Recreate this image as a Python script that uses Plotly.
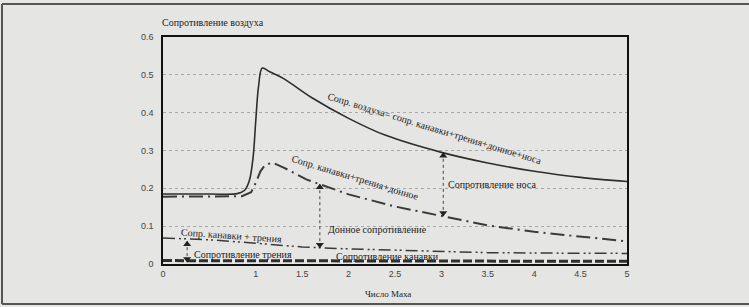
import numpy as np
import plotly.graph_objects as go

# ---- data ----
mach_total = [0, 0.5, 0.8, 0.88, 0.93, 0.97, 1.0, 1.03, 1.07, 1.15, 1.3, 1.6, 2.0, 2.4, 3.0, 3.5, 4.0, 4.5, 5.0]
drag_total = [0.185, 0.185, 0.186, 0.195, 0.22, 0.28, 0.38, 0.47, 0.518, 0.508, 0.49, 0.44, 0.385, 0.34, 0.295, 0.267, 0.245, 0.229, 0.218]

mach_base = [0, 0.5, 0.85, 0.95, 1.0, 1.05, 1.1, 1.18, 1.3, 1.55, 2.0, 2.5, 3.0, 3.5, 4.0, 4.5, 5.0]
drag_base = [0.178, 0.178, 0.179, 0.19, 0.215, 0.245, 0.262, 0.268, 0.255, 0.223, 0.184, 0.152, 0.128, 0.102, 0.085, 0.072, 0.06]

mach_band = [0, 0.5, 1.0, 1.5, 2.0, 2.5, 3.0, 3.5, 4.0, 4.5, 5.0]
drag_band = [0.069, 0.064, 0.055, 0.045, 0.04, 0.036, 0.032, 0.03, 0.029, 0.028, 0.028]

mach_fric = [0, 1.0, 2.0, 3.0, 4.0, 5.0]
drag_fric = [0.009, 0.009, 0.008, 0.008, 0.007, 0.007]

x_ticks = [0, 1, 1.5, 2, 2.5, 3, 3.5, 4, 4.5, 5]
x_tick_text = ["0", "1", "1.5", "2", "2.5", "3", "3.5", "4", "4.5", "5"]
y_ticks = [0, 0.1, 0.2, 0.3, 0.4, 0.5, 0.6]
y_tick_text = ["0", "0.1", "0.2", "0.3", "0.4", "0.5", "0.6"]

# arrow positions (Mach numbers)
arrow_nose_x = 3.02
arrow_base_x = 1.69
arrow_fric_x = 0.26

W, H = 749, 307
ML, MR, MT, MB = 163, 122, 37, 43
pw, ph = W - ML - MR, H - MT - MB

SERIF = "Liberation Serif, DejaVu Serif, serif"
LINE = "#2e2e2e"
BG = "#e5e5e3"

fig = go.Figure()

fig.add_trace(go.Scatter(x=mach_fric, y=drag_fric, mode="lines",
                         line=dict(color=LINE, width=3, dash="9px,3px"), hoverinfo="skip"))
fig.add_trace(go.Scatter(x=mach_band, y=drag_band, mode="lines",
                         line=dict(color="#3a3a3a", width=1.5, dash="12px,4px,2px,3px,2px,4px"), hoverinfo="skip"))
fig.add_trace(go.Scatter(x=mach_base, y=drag_base, mode="lines",
                         line=dict(color="#3a3a3a", width=2, dash="14px,5px,2px,5px"), hoverinfo="skip"))
fig.add_trace(go.Scatter(x=mach_total, y=drag_total, mode="lines", line_shape="spline",
                         line=dict(color=LINE, width=1.6), hoverinfo="skip"))


def double_arrow(xv, y_top, y_bot):
    fig.add_trace(go.Scatter(x=[xv, xv], y=[y_top, y_bot], mode="lines",
                             line=dict(color="#444", width=1, dash="dot"), hoverinfo="skip"))
    fig.add_trace(go.Scatter(x=[xv, xv], y=[y_top - 0.008, y_bot + 0.008], mode="markers",
                             marker=dict(symbol=["triangle-up", "triangle-down"], size=7, color="#222"),
                             hoverinfo="skip"))


double_arrow(arrow_nose_x, float(np.interp(arrow_nose_x, mach_total, drag_total)),
             float(np.interp(arrow_nose_x, mach_base, drag_base)))
double_arrow(arrow_base_x, float(np.interp(arrow_base_x, mach_base, drag_base)),
             float(np.interp(arrow_base_x, mach_band, drag_band)))
double_arrow(arrow_fric_x, float(np.interp(arrow_fric_x, mach_band, drag_band)) - 0.006,
             float(np.interp(arrow_fric_x, mach_fric, drag_fric)) - 0.004)

ann_font = dict(family=SERIF, size=10, color="#222")
annotations = [
    dict(x=2.93, y=0.358, text="Сопр. воздуха= сопр. канавки+трения+донное+носа", textangle=17),
    dict(x=2.07, y=0.228, text="Сопр. канавки+трения+донное", textangle=17),
    dict(x=3.55, y=0.21, text="Сопротивление носа"),
    dict(x=2.31, y=0.092, text="Донное сопротивление"),
    dict(x=0.74, y=0.076, text="Сопр. канавки + трения", textangle=4),
    dict(x=0.86, y=0.024, text="Сопротивление трения"),
    dict(x=2.42, y=0.021, text="Сопротивление канавки"),
]
for a in annotations:
    a.update(xref="x", yref="y", showarrow=False, font=ann_font, bgcolor="rgba(0,0,0,0)")

annotations.append(dict(xref="paper", yref="paper", x=(160 - ML) / pw, y=(H - MB - 23) / ph,
                        xanchor="left", yanchor="middle", text="Сопротивление воздуха",
                        showarrow=False, font=ann_font))
annotations.append(dict(xref="paper", yref="paper", x=(388 - ML) / pw, y=-(294 - (H - MB)) / ph,
                        xanchor="center", yanchor="middle", text="Число Маха",
                        showarrow=False, font=dict(family=SERIF, size=9, color="#222")))

shapes = [
    # outer scanned frame
    dict(type="line", xref="paper", yref="paper", x0=(2 - ML) / pw, x1=(W - ML) / pw,
         y0=(H - MB - 4) / ph, y1=(H - MB - 4) / ph, line=dict(color="#555", width=2)),
    dict(type="line", xref="paper", yref="paper", x0=(2 - ML) / pw, x1=(W - ML) / pw,
         y0=(H - MB - 304) / ph, y1=(H - MB - 304) / ph, line=dict(color="#555", width=2)),
    dict(type="line", xref="paper", yref="paper", x0=(2 - ML) / pw, x1=(2 - ML) / pw,
         y0=(H - MB - 4) / ph, y1=(H - MB - 304) / ph, line=dict(color="#555", width=2)),
]

fig.update_layout(
    width=W, height=H,
    margin=dict(l=ML, r=MR, t=MT, b=MB),
    paper_bgcolor=BG, plot_bgcolor=BG,
    showlegend=False,
    annotations=annotations,
    shapes=shapes,
)
fig.update_xaxes(range=[0, 5], tickvals=x_ticks, ticktext=x_tick_text, showgrid=False, zeroline=False,
                 showline=True, linecolor="#111", linewidth=1.6, mirror=True, ticks="",
                 tickfont=dict(family="Liberation Sans", size=9, color="#444"))
fig.update_yaxes(range=[0, 0.6], tickvals=y_ticks, ticktext=y_tick_text, showgrid=True,
                 gridcolor="#a8a8a8", griddash="dot", gridwidth=1, zeroline=False,
                 showline=True, linecolor="#111", linewidth=1.6, mirror=True, ticks="",
                 ticklabelstandoff=6,
                 tickfont=dict(family="Liberation Sans", size=9, color="#444"))

fig.write_html("out.html", config={"displayModeBar": False},
               post_script="document.body.style.margin='0';document.body.style.background='%s';" % BG)
